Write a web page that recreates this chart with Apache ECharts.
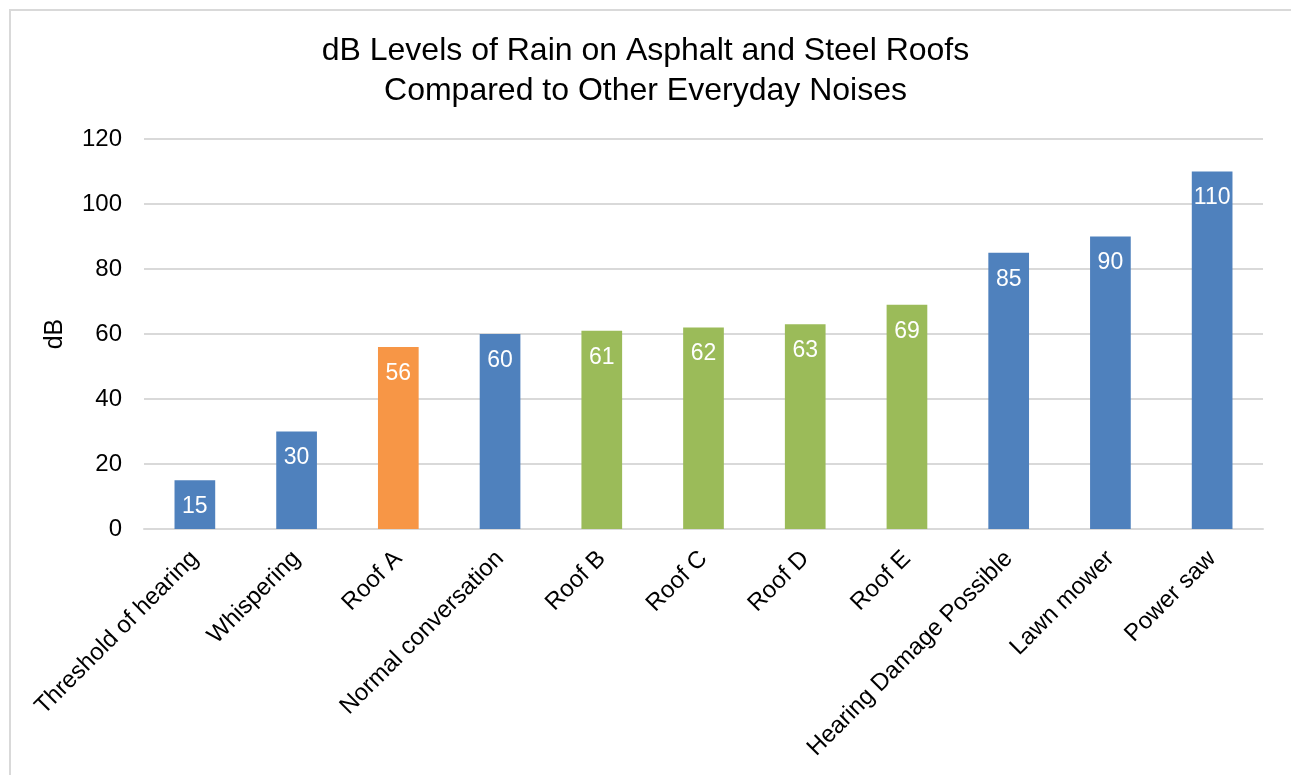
<!DOCTYPE html>
<html>
<head>
<meta charset="utf-8">
<script src="https://cdn.jsdelivr.net/npm/echarts@6/dist/echarts.min.js"></script>
<style>
  html, body { margin: 0; padding: 0; background: #fff; }
  #frame {
    position: absolute; left: 9px; top: 9px; width: 1282px; height: 766px;
    border-top: 2px solid #d9d9d9; border-left: 2px solid #d9d9d9;
  }
  #chart { position: absolute; left: 0; top: 0; width: 1291px; height: 775px; }
</style>
</head>
<body>
<div id="frame"></div>
<div id="chart"></div>
<script>
const categories = ['Threshold of hearing', 'Whispering', 'Roof A', 'Normal conversation',
  'Roof B', 'Roof C', 'Roof D', 'Roof E', 'Hearing Damage Possible', 'Lawn mower', 'Power saw'];
const values = [15, 30, 56, 60, 61, 62, 63, 69, 85, 90, 110];
// kind of sound: 'other' everyday noise, 'asphalt' or 'steel' roof
const kinds = ['other', 'other', 'asphalt', 'other', 'steel', 'steel', 'steel', 'steel', 'other', 'other', 'other'];
const yTicks = { min: 0, max: 120, interval: 20 };

const colors = { other: '#4f81bd', asphalt: '#f79646', steel: '#9bbb59' };
const font = 'Helvetica, Arial, "Liberation Sans", sans-serif';

const chart = echarts.init(document.getElementById('chart'));
chart.setOption({
  backgroundColor: 'transparent',
  animation: false,
  title: {
    text: 'dB Levels of Rain on Asphalt and Steel Roofs\nCompared to Other Everyday Noises',
    left: 'center',
    top: 26,
    textStyle: { fontFamily: font, fontSize: 32, fontWeight: 'normal', color: '#000', lineHeight: 40 }
  },
  grid: { left: 144, right: 28, top: 139, bottom: 246 },
  xAxis: {
    type: 'category',
    data: categories,
    axisLine: { lineStyle: { color: '#d9d9d9', width: 2 } },
    axisTick: { show: false },
    axisLabel: { rotate: 45, interval: 0, margin: 26, fontFamily: font, fontSize: 24, color: '#000' }
  },
  yAxis: {
    type: 'value',
    min: yTicks.min, max: yTicks.max, interval: yTicks.interval,
    name: 'dB',
    nameLocation: 'middle',
    nameGap: 76,
    nameTextStyle: { fontFamily: font, fontSize: 25, color: '#000' },
    axisLine: { show: false },
    axisTick: { show: false },
    axisLabel: { margin: 22, fontFamily: font, fontSize: 24, color: '#000' },
    splitLine: { lineStyle: { color: '#d9d9d9', width: 2 } }
  },
  series: [{
    type: 'bar',
    barWidth: '40%',
    data: values.map((v, i) => ({ value: v, itemStyle: { color: colors[kinds[i]] } })),
    label: {
      show: true, position: 'insideTop', distance: 15,
      fontFamily: font, fontSize: 23, color: '#fff'
    }
  }]
});
</script>
</body>
</html>
